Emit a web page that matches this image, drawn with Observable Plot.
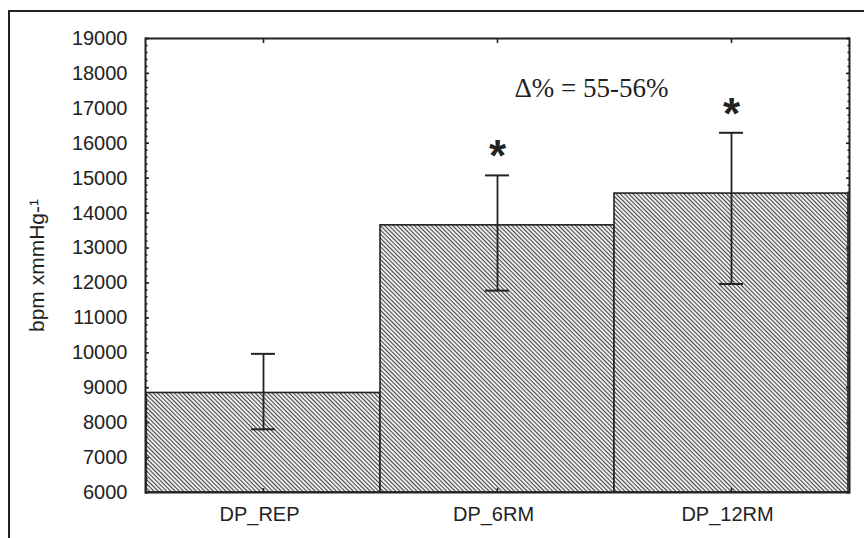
<!DOCTYPE html>
<html>
<head>
<meta charset="utf-8">
<script src="https://cdn.jsdelivr.net/npm/d3@7"></script>
<script src="https://cdn.jsdelivr.net/npm/@observablehq/plot@0.6"></script>
<style>
  html, body { margin: 0; padding: 0; background: #fff; }
  #wrap { position: relative; width: 864px; height: 538px; overflow: hidden; }
  #outer { position: absolute; left: 8px; top: 10px; width: 900px; height: 600px;
           border-left: 2px solid #222; border-top: 2px solid #222; }
  #chart { position: absolute; left: 0; top: 0; }
</style>
</head>
<body>
<div id="wrap"><div id="outer"></div><div id="chart"></div></div>
<script>
// ---- data ----
const categories = ["DP_REP", "DP_6RM", "DP_12RM"];
const means      = [8850, 13650, 14560];
const errHigh    = [9970, 15080, 16300];
const errLow     = [7810, 11780, 11970];
const significant = [false, true, true];
const yTicks = d3.range(6000, 19001, 1000);
const yMinorTicks = d3.range(6000, 19001, 200);
const annotationText = ["Δ% = 55-56%"];
const annotationX = ["DP_6RM"];
const annotationY = [17580];
const yLabel = "bpm xmmHg-¹";
const baseline = 6000;

const rows = categories.map((c, i) => ({cat: c, mean: means[i], hi: errHigh[i], lo: errLow[i], sig: significant[i]}));
const notes = annotationText.map((t, i) => ({text: t, x: annotationX[i], y: annotationY[i]}));

const blank = () => "";
const plot = Plot.plot({
  width: 864,
  height: 538,
  marginLeft: 145,
  marginRight: 15,
  marginTop: 38,
  marginBottom: 46,
  style: {fontFamily: "'Liberation Sans', Arial, sans-serif", background: "transparent", color: "#222"},
  x: {domain: categories, padding: 0, label: null},
  y: {domain: [6000, 19000], label: null},
  marks: [
    Plot.barY(rows, {x: "cat", y1: baseline, y2: "mean", fill: "url(#hatch)", stroke: "#222", strokeWidth: 1.6}),
    Plot.ruleX(rows, {x: "cat", y1: "lo", y2: "hi", stroke: "#222", strokeWidth: 1.8}),
    Plot.tickY(rows, {x: "cat", y: "hi", stroke: "#222", strokeWidth: 2, insetLeft: 105, insetRight: 105}),
    Plot.tickY(rows, {x: "cat", y: "lo", stroke: "#222", strokeWidth: 2, insetLeft: 105, insetRight: 105}),
    Plot.text(rows.filter(d => d.sig), {x: "cat", y: "hi", text: () => "*", dy: -18, fontSize: 44, fontWeight: "bold",
      fontFamily: "'Liberation Sans', Arial, sans-serif", fill: "#222"}),
    Plot.text(notes, {x: "x", y: "y", text: "text", dx: 94, fontSize: 27,
      fontFamily: "'Liberation Serif', 'Times New Roman', serif", fill: "#222"}),
    // inward ticks on the left and right
    Plot.axisY({anchor: "left", ticks: yMinorTicks, tickSize: 2.5, dx: 2.5, tickFormat: blank, label: null, strokeWidth: 1.6}),
    Plot.axisY({anchor: "left", ticks: yTicks, tickSize: 4, dx: 4, tickFormat: blank, label: null, strokeWidth: 1.6}),
    Plot.axisY({anchor: "right", ticks: yMinorTicks, tickSize: 2.5, dx: -2.5, tickFormat: blank, label: null, strokeWidth: 1.6}),
    Plot.axisY({anchor: "right", ticks: yTicks, tickSize: 4, dx: -4, tickFormat: blank, label: null, strokeWidth: 1.6}),
    Plot.axisY({anchor: "left", ticks: yTicks, tickSize: 0, tickPadding: 18, fontSize: 20, label: null, tickFormat: d => String(d)}),
    // inward ticks on top and bottom at bar centres
    Plot.axisX({anchor: "top", tickSize: 4, dy: 4, tickFormat: blank, label: null, strokeWidth: 1.6}),
    Plot.axisX({anchor: "bottom", tickSize: 4, dy: -4, tickFormat: blank, label: null, strokeWidth: 1.6}),
    Plot.axisX({anchor: "bottom", tickSize: 0, tickPadding: 14, fontSize: 20, label: null, dx: -4}),
    Plot.text([yLabel], {frameAnchor: "left", textAnchor: "middle", lineAnchor: "middle", text: d => d, rotate: -90, dx: -108, fontSize: 21,
      fontFamily: "'Liberation Sans', Arial, sans-serif", fill: "#222"}),
    Plot.frame({stroke: "#222", strokeWidth: 2})
  ]
});

// hatch pattern
const defs = d3.select(plot).insert("defs", ":first-child");
const pat = defs.append("pattern")
  .attr("id", "hatch")
  .attr("patternUnits", "userSpaceOnUse")
  .attr("width", 3).attr("height", 3)
  .attr("patternTransform", "rotate(-45)");
pat.append("rect").attr("width", 3).attr("height", 3).attr("fill", "#ececec");
pat.append("line").attr("x1", 1.5).attr("y1", -1).attr("x2", 1.5).attr("y2", 4)
  .attr("stroke", "#444").attr("stroke-width", 1.0);

document.getElementById("chart").appendChild(plot);
</script>
</body>
</html>
